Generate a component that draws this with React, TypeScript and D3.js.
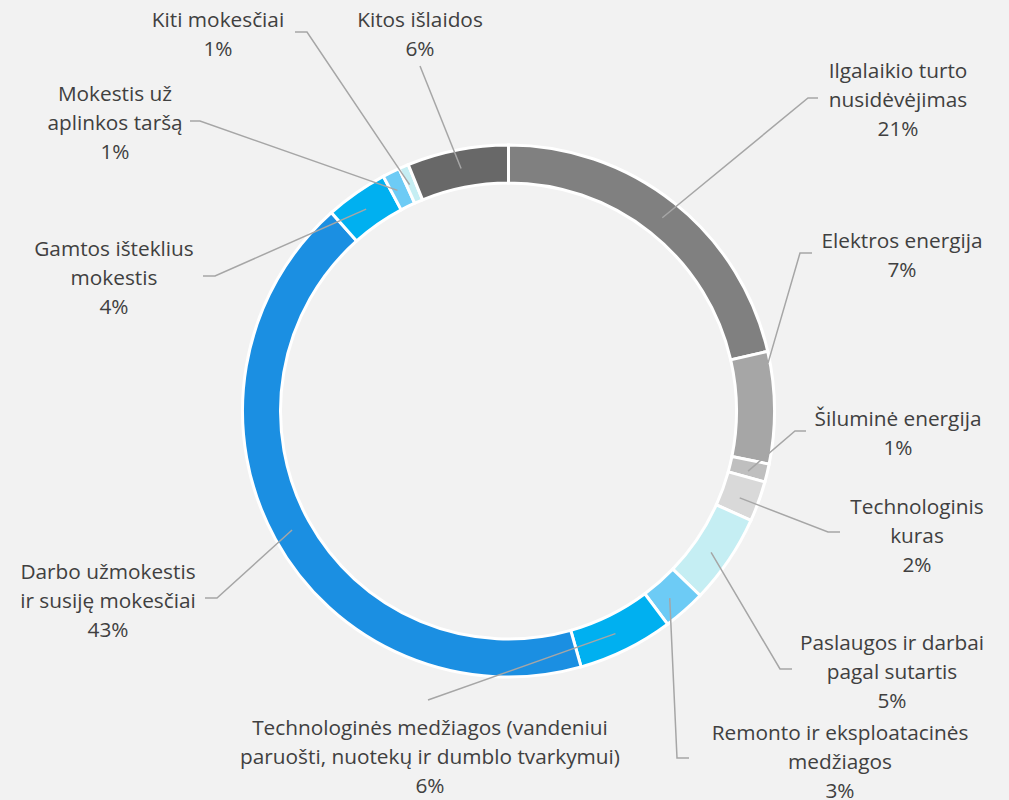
import React from "react";
import * as d3 from "d3";

const categories = [
  "Ilgalaikio turto nusidėvėjimas",
  "Elektros energija",
  "Šiluminė energija",
  "Technologinis kuras",
  "Paslaugos ir darbai pagal sutartis",
  "Remonto ir eksploatacinės medžiagos",
  "Technologinės medžiagos (vandeniui paruošti, nuotekų ir dumblo tvarkymui)",
  "Darbo užmokestis ir susiję mokesčiai",
  "Gamtos išteklius mokestis",
  "Mokestis už aplinkos taršą",
  "Kiti mokesčiai",
  "Kitos išlaidos",
];
const values = [21.4, 6.8, 1.1, 2.45, 5.45, 2.6, 5.8, 42.8, 3.8, 1.05, 0.6, 6.15];
const colors = [
  "#808080", "#a6a6a6", "#bfbfbf", "#d9d9d9", "#c5eef3", "#6dcbf5",
  "#00b0f0", "#1b8fe2", "#00b0f0", "#6dcbf5", "#c5eef3", "#686868",
];
const labelLines = [
  ["Ilgalaikio turto", "nusidėvėjimas"],
  ["Elektros energija"],
  ["Šiluminė energija"],
  ["Technologinis", "kuras"],
  ["Paslaugos ir darbai", "pagal sutartis"],
  ["Remonto ir eksploatacinės", "medžiagos"],
  ["Technologinės medžiagos (vandeniui", "paruošti, nuotekų ir dumblo tvarkymui)"],
  ["Darbo užmokestis", "ir susiję mokesčiai"],
  ["Gamtos išteklius", "mokestis"],
  ["Mokestis už", "aplinkos taršą"],
  ["Kiti mokesčiai"],
  ["Kitos išlaidos"],
];

// layout: label centre x, first line y; leader anchor inside slice; leader elbow / end
const labelLayout = [
  { cx: 898, y: 70, frac: 0.5, r: 247, pts: [[808, 98], [818, 98]] },
  { cx: 902, y: 240, frac: 0.1, r: 264, pts: [[800, 253], [812, 253]] },
  { cx: 898, y: 418, frac: 0.65, r: 247, pts: [[795, 431], [806, 431]] },
  { cx: 917, y: 506, frac: 0.58, r: 247, pts: [[828, 532], [840, 532]] },
  { cx: 892, y: 642, frac: 0.54, r: 247, pts: [[780, 669], [792, 669]] },
  { cx: 840, y: 732, frac: 0.57, r: 247, pts: [[677, 758], [689, 758]] },
  { cx: 430, y: 727, frac: 0.53, r: 247, pts: [[428, 700]] },
  { cx: 108, y: 571, frac: 0.5, r: 247, pts: [[217, 598], [205, 598]] },
  { cx: 114, y: 248, frac: 0.48, r: 247, pts: [[215, 276], [203, 276]] },
  { cx: 115, y: 93, frac: 0.36, r: 247, pts: [[200, 121], [190, 121]] },
  { cx: 218, y: 19, frac: 0.32, r: 247, pts: [[307, 32], [295, 32]] },
  { cx: 420, y: 19, frac: 0.5, r: 247, pts: [[420, 66]] },
];

const W = 1009;
const H = 800;
const CX = 508.5;
const CY = 411;
const R_OUT = 266;
const R_IN = 228;
const LINE_H = 29;

export default function App() {
  const total = d3.sum(values);
  const pie = d3
    .pie<number>()
    .sort(null)
    .value((d) => d)
    .startAngle(0)
    .endAngle(2 * Math.PI);
  const arcs = pie(values);
  const arc = d3.arc<d3.PieArcDatum<number>>().innerRadius(R_IN).outerRadius(R_OUT);

  return (
    <div style={{ position: "absolute", left: 0, top: 0 }}>
      <svg width={W} height={H} style={{ display: "block" }}>
        <rect x={0} y={0} width={W} height={H} fill="#f2f2f2" />
        <g transform={`translate(${CX},${CY})`}>
          {arcs.map((a, i) => (
            <path
              key={categories[i]}
              d={arc(a) || ""}
              fill={colors[i]}
              stroke="#ffffff"
              strokeWidth={3}
              strokeLinejoin="miter"
            />
          ))}
        </g>
        {arcs.map((a, i) => {
          const L = labelLayout[i];
          const ang = a.startAngle + L.frac * (a.endAngle - a.startAngle);
          const x0 = CX + L.r * Math.sin(ang);
          const y0 = CY - L.r * Math.cos(ang);
          const pts = [[x0, y0], ...L.pts];
          const line = d3.line()(pts as [number, number][]);
          return (
            <path
              key={"l" + i}
              d={line || ""}
              fill="none"
              stroke="#a6a6a6"
              strokeWidth={1.5}
            />
          );
        })}
        {arcs.map((a, i) => {
          const L = labelLayout[i];
          const pct = Math.round((values[i] / total) * 100) + "%";
          const lines = [...labelLines[i], pct];
          return (
            <text
              key={"t" + i}
              textAnchor="middle"
              fontFamily="'Open Sans', sans-serif"
              fontSize={20.8}
              fill="#404040"
            >
              {lines.map((s, j) => (
                <tspan key={j} x={L.cx} y={L.y + j * LINE_H} dominantBaseline="central">
                  {s}
                </tspan>
              ))}
            </text>
          );
        })}
      </svg>
    </div>
  );
}
